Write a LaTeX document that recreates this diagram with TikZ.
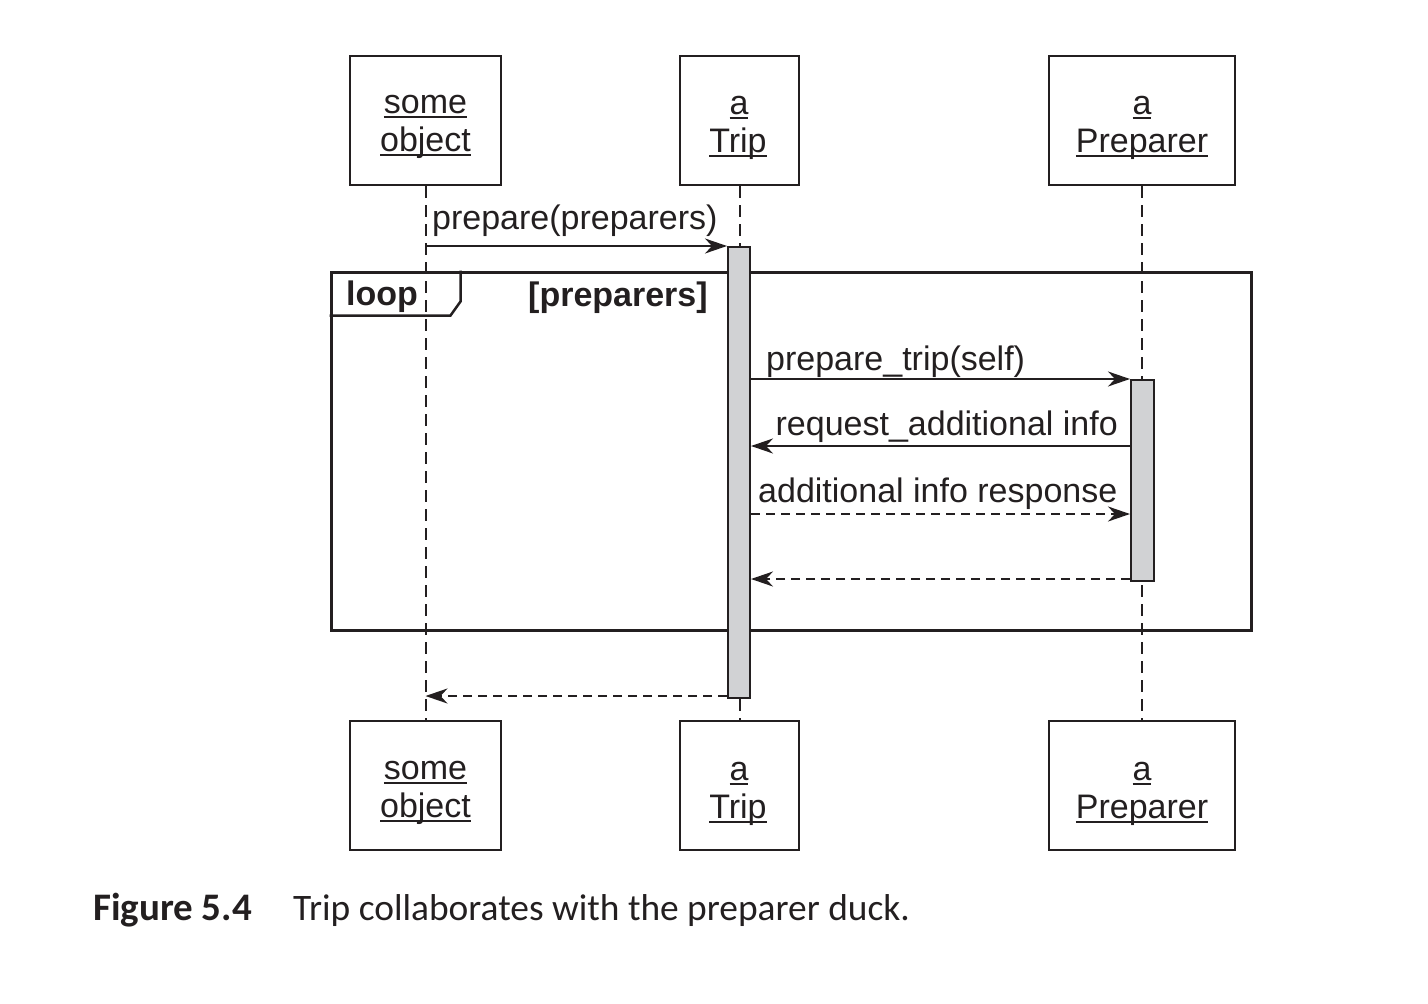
\documentclass[tikz,border=0pt]{standalone}
\usepackage{fontspec}
\setmainfont{Liberation Sans}
\newfontfamily\capfont{Carlito}
\usetikzlibrary{arrows.meta}
\definecolor{ink}{HTML}{231F20}
\definecolor{actgray}{HTML}{D1D2D4}
\newcommand\ulx[1]{\setbox0\hbox{#1}\rlap{\rule[-5pt]{\wd0}{2pt}}\box0}
\begin{document}
\begin{tikzpicture}[x=1pt,y=-1pt,
  objbox/.style={draw=ink, line width=2pt, inner sep=0pt, fill=white, minimum height=129pt},
  lifeline/.style={draw=ink, line width=2pt, dash pattern=on 12pt off 7pt},
  actbar/.style={draw=ink, fill=actgray, line width=2pt, inner sep=0pt},
  framebox/.style={draw=ink, line width=3pt, inner sep=0pt},
  msg/.style={draw=ink, line width=2pt, -{Stealth[length=22pt,width=15pt,inset=7pt]}},
  reply/.style={msg, dash pattern=on 9pt off 6pt},
  txt/.style={inner sep=0pt, font=\fontsize{34}{38}\selectfont, text=ink},
  btxt/.style={inner sep=0pt, font=\fontsize{34}{38}\selectfont\bfseries, text=ink},
  captxt/.style={inner sep=0pt, font=\capfont\fontsize{37.4}{42}\selectfont, text=ink, anchor=base west}]
\useasboundingbox (0,0) rectangle (1428,1004);

% object boxes
\node[objbox, minimum width=151pt] (so1) at (425.5,120.5) {};
\node[objbox, minimum width=119pt] (trip1) at (739.5,120.5) {};
\node[objbox, minimum width=186pt] (prep1) at (1142,120.5) {};
\node[objbox, minimum width=151pt] (so2) at (425.5,785.5) {};
\node[objbox, minimum width=119pt] (trip2) at (739.5,785.5) {};
\node[objbox, minimum width=186pt] (prep2) at (1142,785.5) {};

% box labels
\node[txt, anchor=base] (so1a) at (425.5,113) {\ulx{some}};
\node[txt, anchor=base] (so1b) at (425.5,151) {\ulx{object}};
\node[txt, anchor=base] (trip1a) at (739,114) {\ulx{a}};
\node[txt, anchor=base] (trip1b) at (738,152) {\ulx{Trip}};
\node[txt, anchor=base] (prep1a) at (1142,114) {\ulx{a}};
\node[txt, anchor=base] (prep1b) at (1142,152) {\ulx{Preparer}};
\node[txt, anchor=base] (so2a) at (425.5,779) {\ulx{some}};
\node[txt, anchor=base] (so2b) at (425.5,817) {\ulx{object}};
\node[txt, anchor=base] (trip2a) at (739,780) {\ulx{a}};
\node[txt, anchor=base] (trip2b) at (738,818) {\ulx{Trip}};
\node[txt, anchor=base] (prep2a) at (1142,780) {\ulx{a}};
\node[txt, anchor=base] (prep2b) at (1142,818) {\ulx{Preparer}};

% lifelines
\draw[lifeline] (so1.south) -- (so2.north);
\draw[lifeline] (trip1.south) -- (trip2.north);
\draw[lifeline] (prep1.south) -- (prep2.north);

% loop frame
\node[framebox, minimum width=920pt, minimum height=358pt] (loopf) at (791,451) {};
\draw[ink, line width=2.5pt] ([xshift=131pt]loopf.north west) -- ++(0,31) -- ++(-10,14) -- ([yshift=-45pt]loopf.north west);
\node[btxt, anchor=base west] (looplbl) at (346,305) {loop};
\node[btxt, anchor=base west] (guard) at (528,306) {[preparers]};

% activations
\node[actbar, minimum width=22pt, minimum height=451pt] (act1) at (739,472.5) {};
\node[actbar, minimum width=23pt, minimum height=201pt] (act2) at (1142.5,480.5) {};

% messages
\coordinate (y3) at (0,446);
\coordinate (y4) at (0,514);
\coordinate (y5) at (0,579);
\coordinate (y6) at (0,696);
\draw[msg] (so1 |- act1.north) -- (act1.north west);
\draw[msg] (act1.east |- act2.north) -- (act2.north west);
\draw[msg] (act2.west |- y3) -- (act1.east |- y3);
\draw[reply] (act1.east |- y4) -- (act2.west |- y4);
\draw[reply] (act2.west |- y5) -- (act1.east |- y5);
\draw[reply] (act1.west |- y6) -- (so1 |- y6);

\node[txt, anchor=base west] (l1) at (432,229) {prepare(preparers)};
\node[txt, anchor=base west] (l2) at (766,370) {prepare\_trip(self)};
\node[txt, anchor=base east] (l3) at (1118,435) {request\_additional info};
\node[txt, anchor=base west] (l4) at (758,502) {additional info response};

% caption
\node[captxt, font=\capfont\bfseries\fontsize{39}{42}\selectfont] (fig) at (93,920) {Figure 5.4};
\node[captxt] (cap) at (293,920) {Trip collaborates with the preparer duck.};
\end{tikzpicture}
\end{document}
